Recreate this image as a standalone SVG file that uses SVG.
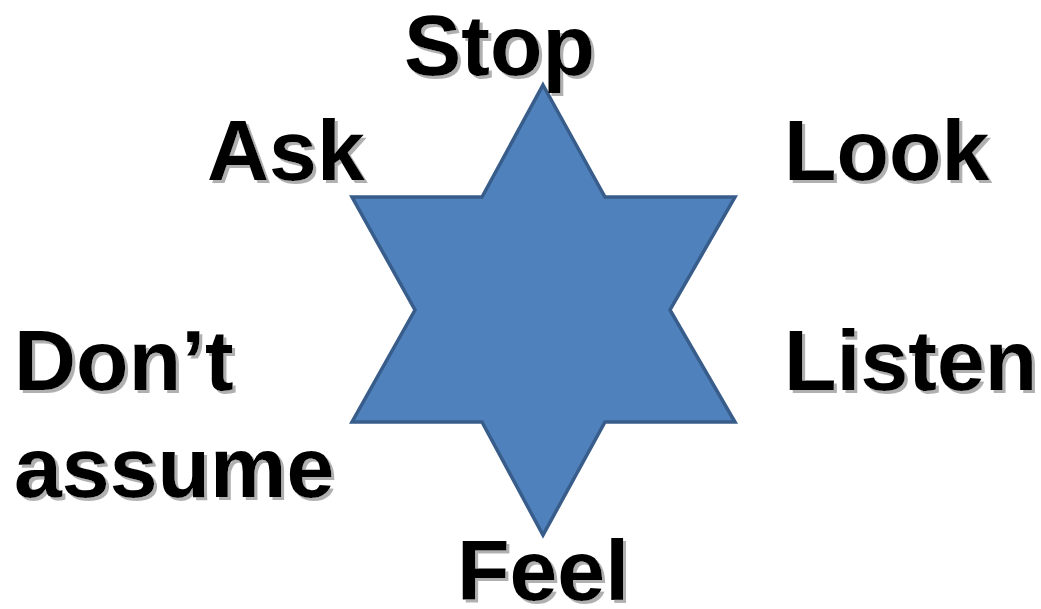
<svg xmlns="http://www.w3.org/2000/svg" width="1041" height="609" viewBox="0 0 1041 609">
<defs>
<filter id="sh" x="-10%" y="-10%" width="120%" height="130%">
<feOffset in="SourceAlpha" dx="3" dy="3" result="o"/>
<feFlood flood-color="#b0b0b0"/>
<feComposite in2="o" operator="in" result="g"/>
<feMerge><feMergeNode in="g"/><feMergeNode in="SourceGraphic"/></feMerge>
</filter>
</defs>
<style>
.t{font-family:"Liberation Sans",Arial,sans-serif;font-weight:bold;font-size:86px;fill:#000;filter:url(#sh)}
</style>
<rect width="1041" height="609" fill="#fff"/>
<g id="star">
<polygon points="543,85 605,197 735,197 670,310 735,422 605,422 543,535 482,422 352,422 415,310 352,197 482,197" fill="#4F81BD" stroke="#385D8A" stroke-width="3.5" stroke-linejoin="miter"/>
</g>
<g id="stop"><text class="t" x="404" y="75">Stop</text></g>
<g id="ask"><text class="t" x="207" y="180">Ask</text></g>
<g id="look"><text class="t" x="784" y="180">Look</text></g>
<g id="dont"><text class="t" x="14" y="390">Don’t</text><text class="t" x="14" y="497">assume</text></g>
<g id="listen"><text class="t" x="784" y="390">Listen</text></g>
<g id="feel"><text class="t" x="457" y="600">Feel</text></g>
</svg>
